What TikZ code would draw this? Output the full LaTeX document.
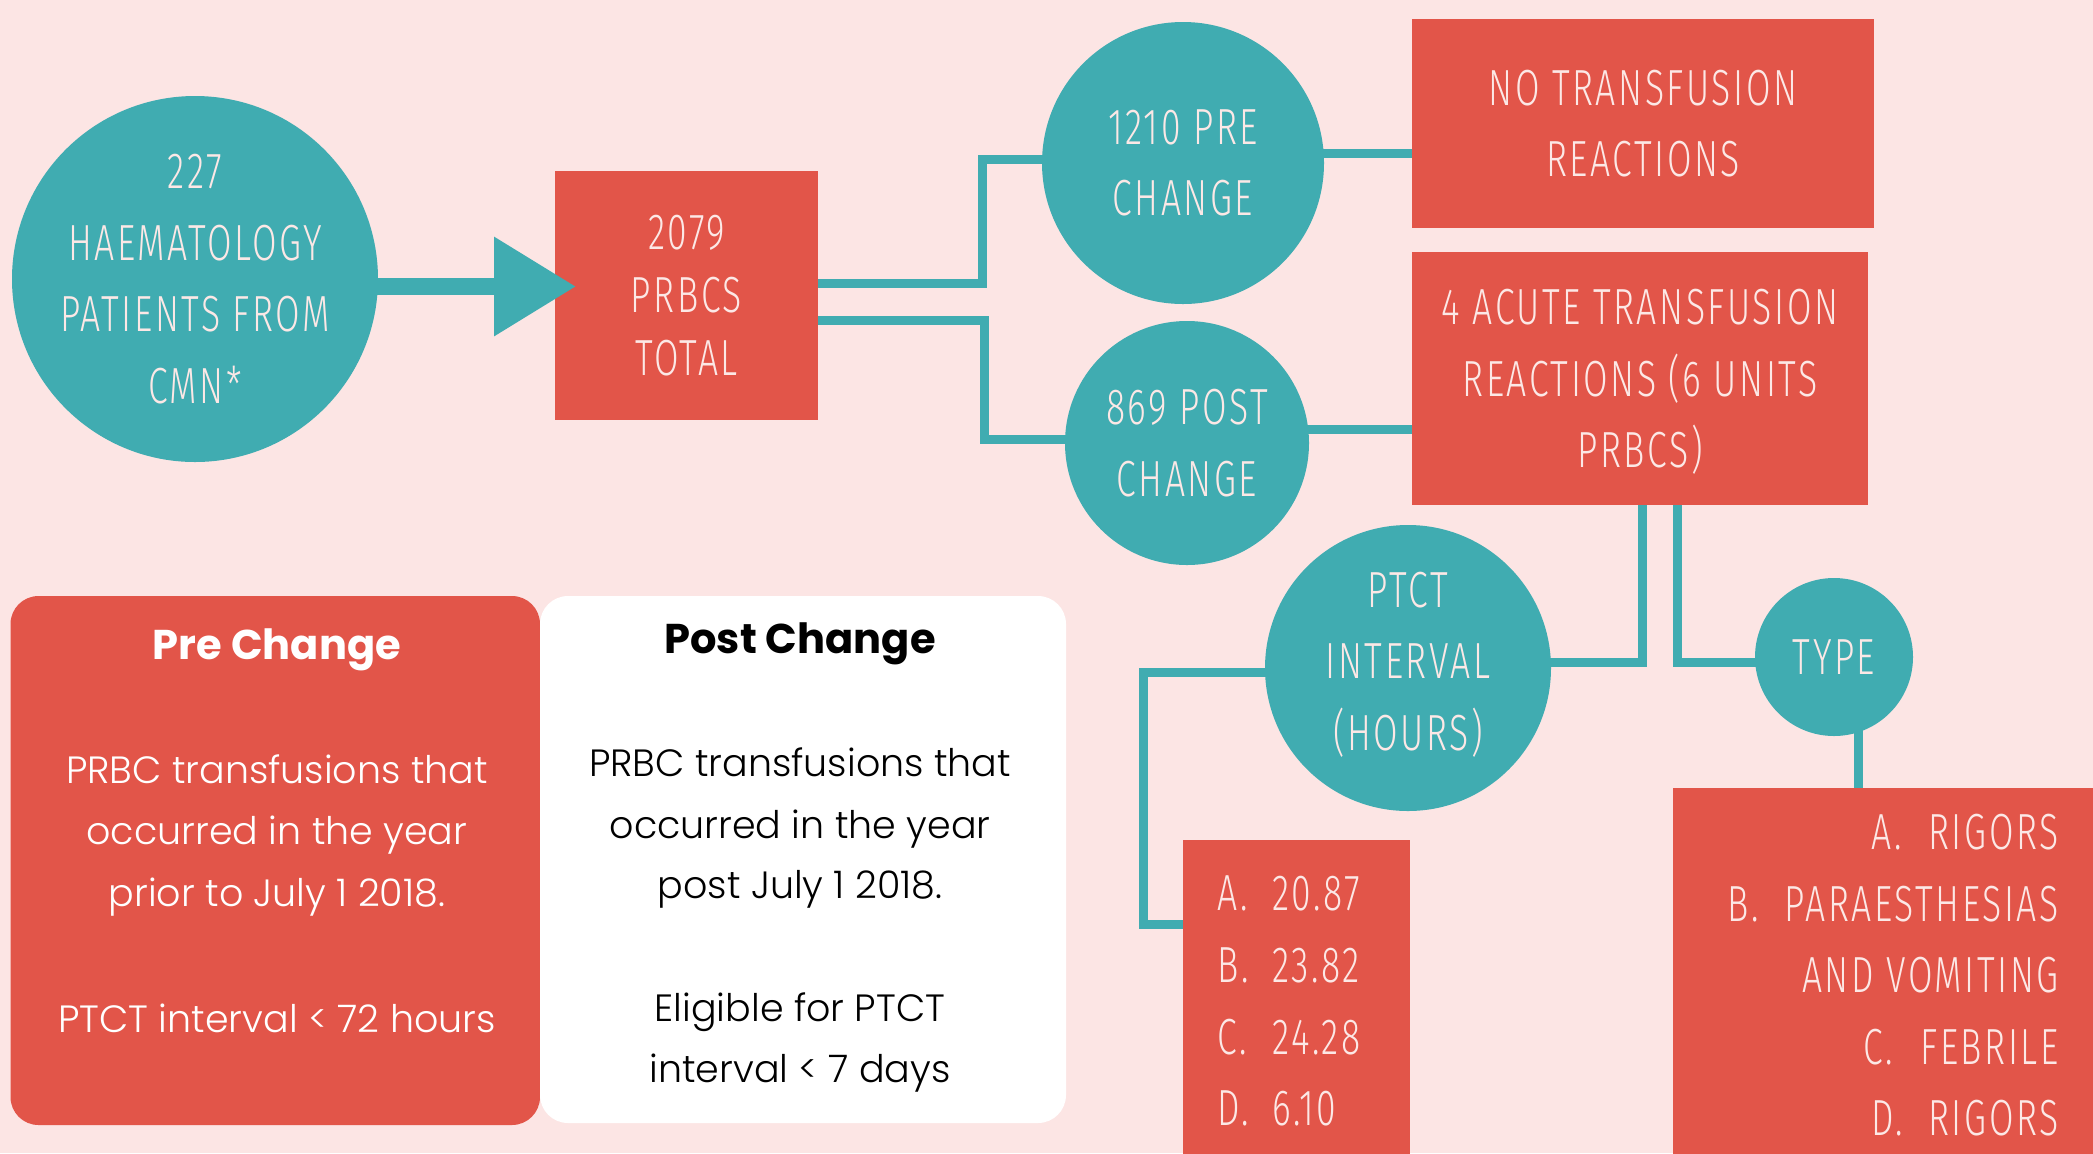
\documentclass[tikz,border=0pt]{standalone}
\usepackage{fontspec}
\setmainfont{Poppins}[UprightFont=* Light, BoldFont=* Bold]
\newfontfamily\capsfont[FakeStretch=0.70, LetterSpace=5, UprightFont=* Light]{Fira Sans}
\usetikzlibrary{arrows.meta,backgrounds}
\definecolor{bgpink}{HTML}{FCE5E4}
\definecolor{tealc}{HTML}{40ACB1}
\definecolor{redc}{HTML}{E25549}
\definecolor{lightc}{HTML}{FCE8E6}
\tikzset{
  capstext/.style={font=\capsfont\fontsize{25.4}{35.75}\selectfont, text=lightc, align=center, inner sep=0pt},
  tcirc/.style={circle, fill=tealc, inner sep=0pt},
  rbox/.style={rectangle, fill=redc, capstext},
  conn/.style={draw=tealc, line width=4.5pt},
  bodytxt/.style={font=\fontsize{19}{31}\selectfont, inner sep=0pt, anchor=base},
  boxtitle/.style={font=\bfseries\fontsize{20.8}{25}\selectfont, inner sep=0pt, anchor=base},
  listtxt/.style={font=\capsfont\fontsize{25.4}{35.75}\selectfont, text=lightc, inner sep=0pt},
}
\begin{document}
\begin{tikzpicture}[x=0.5pt,y=-0.5pt]
\useasboundingbox (0,0) rectangle (2093,1153);

% circles
\node[tcirc, minimum size=183pt] (c1) at (195,279) {};
\node[capstext] (c1t) at (c1) {227\\HAEMATOLOGY\\PATIENTS FROM\\CMN*};
\node[tcirc, minimum size=141pt] (pre) at (1183,163) {};
\node[capstext] (pret) at (pre) {1210 PRE\\CHANGE};
\node[tcirc, minimum size=122pt] (post) at (1187,443) {};
\node[capstext] (postt) at (post) {869 POST\\CHANGE};
\node[tcirc, minimum size=143pt] (ptct) at (1408,668) {};
\node[capstext, text depth=7pt] (ptctt) at (ptct) {PTCT\\INTERVAL\\(HOURS)};
\node[tcirc, minimum size=79pt] (type) at (1834,657) {};
\node[capstext] (typet) at (type) {TYPE};

% boxes
\node[rbox, minimum width=131.5pt, minimum height=124.5pt, font=\capsfont\fontsize{25.4}{31.5}\selectfont] (total) at (686.5,295.5) {2079\\PRBCS\\TOTAL};
\node[rbox, minimum width=231pt, minimum height=104.5pt] (notr) at (1643,123.5) {NO TRANSFUSION\\REACTIONS};
\node[rbox, minimum width=228pt, minimum height=126.5pt, text depth=0pt] (acute) at (1640,378.5) {4 ACUTE TRANSFUSION\\REACTIONS (6 UNITS\\PRBCS)};
\node[rbox, minimum width=113.5pt, minimum height=157pt] (vals) at (1296.5,997) {};
\node[rbox, minimum width=211pt, minimum height=183pt] (types) at (1883.5,971) {};

% value lines
\node[listtxt, anchor=base west] (v1) at (1217,910) {\makebox[27.5pt][l]{A.}20.87};
\node[listtxt, anchor=base west] (v2) at (1217,982) {\makebox[27.5pt][l]{B.}23.82};
\node[listtxt, anchor=base west] (v3) at (1217,1054) {\makebox[27.5pt][l]{C.}24.28};
\node[listtxt, anchor=base west] (v4) at (1217,1125) {\makebox[27.5pt][l]{D.}6.10};

% type lines
\node[listtxt, anchor=base east] (t1) at (2059,849) {\makebox[28.5pt][l]{A.}RIGORS};
\node[listtxt, anchor=base east] (t2) at (2059,921) {\makebox[28.5pt][l]{B.}PARAESTHESIAS};
\node[listtxt, anchor=base east] (t3) at (2059,992) {AND VOMITING};
\node[listtxt, anchor=base east] (t4) at (2059,1064) {\makebox[28.5pt][l]{C.}FEBRILE};
\node[listtxt, anchor=base east] (t5) at (2059,1135) {\makebox[28.5pt][l]{D.}RIGORS};

% pre / post panels
\node[fill=redc, rounded corners=14pt, minimum width=264.75pt, minimum height=264.5pt, inner sep=0pt] (prebox) at (275.25,860.5) {};
\node[fill=white, rounded corners=14pt, minimum width=263pt, minimum height=263.5pt, inner sep=0pt] (postbox) at (803,859.5) {};

\node[boxtitle, text=white] (prehead) at (277,659) {Pre Change};
\node[bodytxt, text=white] (pb1) at (277,783) {PRBC transfusions that};
\node[bodytxt, text=white] (pb2) at (277,844) {occurred in the year};
\node[bodytxt, text=white] (pb3) at (277,906) {prior to July 1 2018.};
\node[bodytxt, text=white] (pb4) at (277,1032) {PTCT interval < 72 hours};

\node[boxtitle, text=black] (posthead) at (800,653) {Post Change};
\node[bodytxt, text=black] (qb1) at (800,776) {PRBC transfusions that};
\node[bodytxt, text=black] (qb2) at (800,838) {occurred in the year};
\node[bodytxt, text=black] (qb3) at (800,898) {post July 1 2018.};
\node[bodytxt, text=black] (qb4) at (800,1021) {Eligible for PTCT};
\node[bodytxt, text=black] (qb5) at (800,1082) {interval < 7 days};

% main arrow (drawn over the box)
\coordinate (tip) at (576,286.5);
\draw[draw=tealc, fill=tealc, line width=8.5pt, -{Triangle[length=41pt,width=47.5pt]}] ([xshift=-1pt]c1.east |- tip) -- (tip);

\begin{scope}[on background layer]
\fill[bgpink] (0,0) rectangle (2093,1153);
\draw[conn] ([yshift=6.25pt]total.east) -| (982,159.5) -- ([yshift=1.75pt]pre.center);
\draw[conn] ([yshift=-12.25pt]total.east) -| (984,439) -- ([yshift=2pt]post.center);
\draw[conn] ([yshift=4.75pt]pre.center) -- ([yshift=4.75pt]pre.center -| notr.center);
\draw[conn] ([yshift=6.75pt]post.center) -- ([yshift=6.75pt]post.center -| acute.center);
\draw[conn] ([xshift=1.25pt]acute.center) |- ([yshift=2.75pt]ptct.center);
\draw[conn] ([xshift=18.5pt]acute.center) |- ([yshift=-2.75pt]type.center);
\draw[conn] ([xshift=12.25pt]type.center) -- ([xshift=12.25pt]type.center |- types.center);
\draw[conn] ([yshift=-2.25pt]ptct.center) -| (1143,924) -- ([yshift=36.5pt]vals.center);
\end{scope}
\end{tikzpicture}
\end{document}
